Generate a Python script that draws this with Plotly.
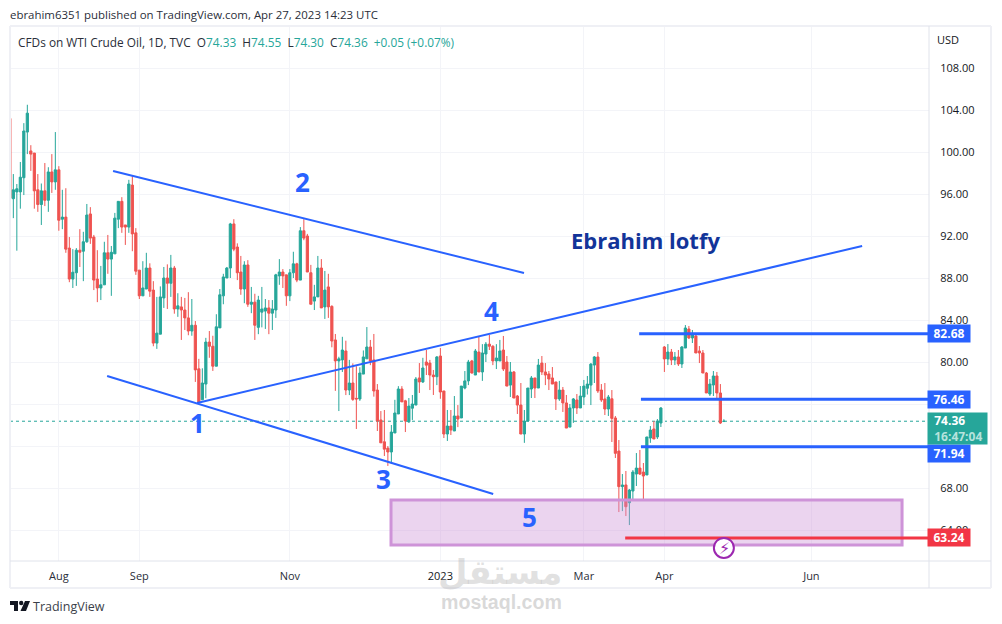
import plotly.graph_objects as go

opens = [103.2,95.55,96.2,96.2,97.55,101.9,100.1,99.9,96.4,95,96.3,95.4,98.1,97.15,98.3,93.6,93.8,90.85,87.9,88.5,
90.65,90.55,91.45,94.1,91.9,87.9,87.05,87.35,90.4,89.8,90.3,93.6,95.3,93.05,92.85,96.85,92.3,88.75,86.3,86.95,
88.95,86.85,81.8,82.65,86.1,88,87.5,88.95,85.05,85.25,84.95,84.2,82.95,83.5,79.35,76.4,77.9,81.9,81.5,79.6,
83.25,86.3,88,88.95,93.15,90.95,88.57,86.95,89.24,85.5,85.7,83.3,84.75,84.85,85.15,84.65,84.95,88.2,88.57,88.3,
86.3,88.5,89.35,87.8,92.5,92,88.5,85.8,86.2,88.95,85.25,87.15,85.3,82.1,80.1,80.2,81.05,77.33,78,76.54,
76.48,78.85,80.3,81.43,80.2,77.33,74.48,72.4,71.8,71.43,73.24,75.05,77.43,76.3,74.3,75.6,75.9,78.48,78.1,80,
79.9,78.76,78.6,80.57,77.24,73.14,73.9,73.43,74.86,74.67,77.52,78.2,80.1,78.76,80.95,79.05,80.76,81.7,81.5,80.1,
80.1,81.14,80,77.8,79.05,76.76,75.9,73.14,74.38,77.43,78.48,77.52,79.9,79.05,78.86,78.48,78.1,76.48,77.33,76.1,
73.8,75.62,76.38,75.62,76.67,77.5,77.8,79.71,80.48,77.33,76.48,75.52,76.5,74.67,71.52,68.13,68.29,66.6,67.71,69.33,
69.9,69.52,69.24,72.76,73.62,72.86,74.19,81.43,80.29,80.95,80.19,80.48,79.81,81.33,83.14,82.29,82.48,81.05,80.86,78.95,
76.95,77.81,78.67,77.05,74.33]
highs = [103.2,97.9,96.95,99.05,102.75,104.5,100.65,99.9,97.9,97,98.95,98.55,99.8,101.9,98.65,96.4,96.55,91.9,90.75,90.85,
92.65,92.4,95.05,94.75,92.1,90.65,89.15,91.45,92.1,91.05,94.2,95.3,95.7,93.05,97.35,97.7,92.75,88.75,89.6,90.4,
89.4,87.7,86.2,87.2,89.05,89.3,90.2,89.15,86.55,86.2,86.1,86.65,86,83.9,80.3,79.4,82.3,82.95,82.5,84.55,
86.95,88.4,89.05,93.25,93.6,91.3,90.1,89.6,89.7,87.15,86.5,86.3,87.15,86,85.9,85.9,88.4,89.8,88.85,88.3,
88.85,90.5,89.45,92.85,93.6,92.2,89.25,87.35,90.1,89.8,88.67,88.4,85.4,82.67,80.5,82.4,82.03,80.2,79.87,79.6,
79.5,81.1,83.33,82.1,82.67,77.9,75.33,75.43,72,74,76.4,77.7,77.7,76.4,76.57,76.86,78.57,79.9,80.4,81.14,
80.2,79.24,80.57,81.33,77.24,75.43,75.43,76.76,75.9,77.71,79.14,80.2,80.2,81.24,82.38,81.7,81.9,82.57,81.6,81.7,
82.1,82.48,80.57,80,79.14,76.86,78,75.43,77.52,78.67,78.48,80.29,80.57,79.9,79.14,79.52,78.1,78.2,77.62,76.86,
76,76.57,76.95,77.71,78.29,78.67,79.9,80.57,80.95,77.9,78,76.86,77.33,74.86,72.57,69.33,69.62,67.9,69.71,71.33,
71.62,70.38,72.86,73.9,74.38,74.57,75.71,81.52,81.71,81.24,80.95,81.14,81.52,83.52,83.43,83.05,82.67,81.52,81.14,79.05,
78.38,79.14,79.05,77.9,74.55]
lows = [95.6,93.7,90.6,94.6,95.9,99.8,98.2,94.6,94.3,93.05,94.85,94.3,96.1,96.4,92.5,92.65,90.4,87.6,87.05,87.25,
89.05,87.7,91.35,91.25,86.85,85.7,85.9,87.35,88.4,86.3,90.3,92.75,92.3,91.15,92.3,90.55,88.3,86,86.3,86.95,
86.2,81.5,81.25,82.65,85.15,85.05,86.2,84.6,84.3,82.1,83.05,82.55,82.5,78.1,76.2,76.4,76.55,80.4,79.15,79.6,
83.25,85.5,88,88,90.55,87.8,86.4,85.6,85.25,84.65,82.1,82.65,83.3,83.15,82.65,83.05,84.2,87.35,87.05,85.35,
85.8,88,87.6,87.8,91.6,88.57,85.5,84.95,86.2,85.15,84.1,84.2,81.4,77.25,75.33,79.05,76.85,76.85,76.3,73.62,
76.3,78.85,80.3,79.7,76.7,73.43,72.3,71.05,70.1,70.3,73.24,75.05,76.2,73.33,74.2,74.48,75.9,77.05,78,78.76,
77.33,76.86,77.8,76.5,72.76,72.48,73.05,73.43,73.8,74.67,77.4,77.8,78.9,78.76,79.05,78.2,80,81.14,79.7,79.33,
80.1,79.14,77.7,76.67,76.57,75.05,73.14,72.3,74.38,76.57,76.57,77.52,78.76,77.8,77.33,77.9,75.43,76.3,75.24,73.71,
73.8,74.2,75.05,75.62,75.9,76.9,75.9,78,77.05,76.2,74.95,74.86,72.38,70.86,65.71,65.8,65.33,64.47,66.95,68.19,
69.24,66.86,69.24,72.3,72.67,72.67,73.81,79.05,79.71,79.71,79.71,79.62,79.43,81.33,82.19,81.81,80.86,79.9,78.95,77.05,
76.76,76.76,76.57,74.1,74.3]
closes = [95.6,96.4,96.5,97.6,102,103.7,99.8,96.3,95,96.3,95.4,98.1,97.15,98.3,93.5,93.8,90.75,87.9,88.55,90.65,
90.45,91.45,94,91.8,87.8,87.05,87.35,90.4,89.8,90.45,93.7,95.3,92.85,92.85,96.95,92.2,88.65,86.3,87.05,88.95,
86.75,81.8,82.75,86.2,88,87.5,88.95,85.05,85.35,84.95,84.2,82.95,83.5,79.25,76.2,78,81.9,81.5,79.6,83.35,
86.4,88.1,88.95,93.15,90.75,88.5,86.95,89.24,85.5,85.7,83.5,85.9,85.05,85.15,84.65,85.05,88.3,88.57,88.2,86.3,
88.5,89.35,87.8,92.5,91.8,88.57,85.5,86.2,88.95,85.15,86.85,85.25,82,80.1,80.3,81.14,77.33,78,76.44,76.48,
78.95,80.48,81.43,80.1,77.24,74.38,72.3,71.7,71.43,73.33,75.14,77.43,76.2,74.38,75.8,76,78.38,78.1,79.43,79.7,
78.76,78.6,80.48,77.14,73.14,73.9,73.52,74.86,74.57,77.71,78.2,80,78.95,81.05,79.05,80.86,81.7,81.5,80.1,80.38,
81.05,79.33,77.71,79.05,76.57,75.9,73.14,74.38,77.52,78.48,77.52,79.71,79.05,78.76,78.38,77.9,76.48,77.33,76.1,73.71,
75.62,76.48,75.62,76.76,77.71,77.9,79.8,80.48,77.24,76.38,75.52,76.67,74.63,71.3,68.13,68.29,66.22,67.81,69.52,69.9,
69.33,69.14,72.86,73.52,72.67,74.38,75.62,80.29,80.95,80.19,80.48,79.81,81.43,83.24,82.29,82.67,80.86,80.86,78.95,77.05,
77.9,78.67,77.05,74.19,74.36]

tick_vals = [14, 37, 80, 123, 164, 187, 229]
tick_text = ["Aug", "Sep", "Nov", "<span style='color:#131722'>2023</span>", "Mar", "Apr", "Jun"]
price_ticks = [64, 68, 72, 76, 80, 84, 88, 92, 96, 100, 104, 108]
price_labels = ["64.00", "68.00", "", "", "80.00", "84.00", "88.00", "92.00", "96.00", "100.00", "104.00", "108.00"]
levels = [82.68, 76.46, 71.94]
level_starts = [179.8, 180.3, 180.3]
support = 63.24
last_price = 74.36

W, H = 1002, 624
L, R, T, B = 10, 929, 27, 561
BLUE = "#2962ff"
GREEN = "#26a69a"
RED = "#ef5350"
GRID = "#f3f4f8"
INK = "#131722"
TEXT_FONT = "Open Sans"

def px(v):
    return (v - L) / (R - L)

def py(v):
    return (B - v) / (B - T)

fig = go.Figure()
fig.add_trace(go.Candlestick(
    x=list(range(len(opens))), open=opens, high=highs, low=lows, close=closes,
    increasing=dict(line=dict(color=GREEN, width=1), fillcolor=GREEN),
    decreasing=dict(line=dict(color=RED, width=1), fillcolor=RED),
    whiskerwidth=0, hoverinfo="skip", showlegend=False,
))

shapes = []
shapes.append(dict(type="line", xref="paper", yref="y", x0=0, x1=1, y0=last_price, y1=last_price,
                   layer="below", line=dict(color=GREEN, width=1, dash="dot")))
for x0, y0, x1, y1 in [(29.5, 98.19, 146.9, 88.48), (53.5, 76.1, 243.5, 91.05), (27.8, 78.67, 138.1, 67.43)]:
    shapes.append(dict(type="line", xref="x", yref="y", x0=x0, y0=y0, x1=x1, y1=y1,
                       line=dict(color=BLUE, width=2)))
shapes.append(dict(type="rect", xref="x", yref="y", x0=108.9, x1=254.9, y0=62.57, y1=66.86,
                   fillcolor="rgba(206,147,216,0.4)", line=dict(color="#ce93d8", width=3)))
for lvl, st in zip(levels, level_starts):
    shapes.append(dict(type="line", xref="x", yref="y", x0=st, x1=263, y0=lvl, y1=lvl,
                       line=dict(color=BLUE, width=3)))
shapes.append(dict(type="line", xref="x", yref="y", x0=175.8, x1=263, y0=support, y1=support,
                   line=dict(color="#f23645", width=3)))
shapes.append(dict(type="circle", xref="x", yref="y", xsizemode="pixel", ysizemode="pixel",
                   xanchor=204, yanchor=62.29, x0=-10, x1=10, y0=-10, y1=10,
                   fillcolor="white", line=dict(color="#9c27b0", width=2)))
for x0, y0, x1, y1, col, wd in [
    (10, 26, 991, 26, "#eff0f5", 2), (10, 588, 991, 588, "#eff0f5", 2),
    (10, 26, 10, 588, "#eff0f5", 2), (991, 26, 991, 588, "#eff0f5", 2),
    (R, 26, R, 588, "#e0e3eb", 1), (10, B, 991, B, "#e0e3eb", 1)]:
    shapes.append(dict(type="line", xref="paper", yref="paper", x0=px(x0), x1=px(x1), y0=py(y0), y1=py(y1),
                       line=dict(color=col, width=wd)))
logo_t = [(10, 601), (18, 601), (18, 611), (14, 611), (14, 605), (10, 605)]
logo_s = [(25, 601), (30, 601), (26, 611), (20.5, 611)]
for poly in (logo_t, logo_s):
    path = "M " + " L ".join(f"{px(a):.5f} {py(b):.5f}" for a, b in poly) + " Z"
    shapes.append(dict(type="path", xref="paper", yref="paper", path=path, fillcolor=INK, line=dict(width=0)))
shapes.append(dict(type="circle", xref="paper", yref="paper", x0=px(19), x1=px(23.4), y0=py(605.2), y1=py(600.8),
                   fillcolor=INK, line=dict(width=0)))

ann = []
def note(text, x, y, size, color, bold=False, xanchor="center", font=TEXT_FONT):
    ann.append(dict(text=f"<b>{text}</b>" if bold else text, xref="paper", yref="paper", x=px(x), y=py(y),
                    xanchor=xanchor, yanchor="middle", showarrow=False,
                    font=dict(size=size, color=color, family=font)))

note("ebrahim6351 published on TradingView.com, Apr 27, 2023 14:23 UTC", 8, 15, 11.45, "#2a2e39", xanchor="left")
g = lambda s: f"<span style='color:{GREEN}'>{s}</span>"
sp = "&nbsp;&nbsp;"
note("CFDs on WTI Crude Oil, 1D, TVC" + sp + "O" + g("74.33") + sp + "H" + g("74.55") + sp + "L" + g("74.30") + sp + "C" + g("74.36")
     + sp + g("+0.05 (+0.07%)"), 16, 42, 11.85, "#2a2e39", xanchor="left")
note("USD", 948, 40, 11, INK)
for label, x, y in [("2", 302, 182), ("1", 197, 423), ("3", 383, 479), ("4", 491, 311), ("5", 529, 517)]:
    note(label, x, y, 26, BLUE, bold=True)
note("Ebrahim lotfy", 645, 240, 22, "#123499", bold=True)
note("⚡", 724, 548, 16, "#9c27b0", font="DejaVu Sans")
note("TradingView", 31, 606, 12.5, "#3b3f4a", xanchor="left")
note("مستقل", 500, 572, 34, "rgba(170,170,170,0.35)", bold=True, font="DejaVu Sans")
note("mostaql.com", 501.5, 602, 19.6, "rgba(185,185,185,0.55)", bold=True, font="Liberation Sans")

tag_y = {levels[0]: levels[0], levels[1]: levels[1], levels[2]: 71.3, support: support}
for val, col in [(levels[0], BLUE), (levels[1], BLUE), (levels[2], BLUE), (support, "#f23645")]:
    ann.append(dict(text=f"<b>{val:.2f}</b>", xref="paper", yref="y", x=px(927), y=tag_y[val], xanchor="left",
                    yanchor="middle", showarrow=False, bgcolor=col, width=42, height=17, borderpad=0,
                    font=dict(size=12, color="white", family=TEXT_FONT)))
ann.append(dict(text=f"&nbsp;&nbsp;<b>{last_price:.2f}</b><br>&nbsp;&nbsp;<span style='color:#b6e3dd'><b>16:47:04</b></span>",
                xref="paper", yref="paper", x=px(927), y=py(428.5), xanchor="left", yanchor="middle",
                showarrow=False, bgcolor=GREEN, width=59, height=31, borderpad=0, align="left",
                font=dict(size=12, color="white", family=TEXT_FONT)))

fig.update_layout(
    width=W, height=H, margin=dict(l=L, r=W - R, t=T, b=H - B, pad=0),
    paper_bgcolor="white", plot_bgcolor="white", showlegend=False, boxgap=0.1,
    shapes=shapes, annotations=ann,
    xaxis=dict(range=[0.05, 262.6], rangeslider=dict(visible=False), tickmode="array", tickvals=tick_vals,
               ticktext=tick_text, showgrid=True, gridcolor=GRID, gridwidth=1, zeroline=False, showline=False,
               ticks="outside", ticklen=5, tickcolor="rgba(0,0,0,0)", tickfont=dict(size=11, color="#2a2e39", family=TEXT_FONT)),
    yaxis=dict(range=[61.048, 111.905], side="right", tickmode="array", tickvals=price_ticks,
               ticktext=price_labels, showgrid=True, gridcolor=GRID, gridwidth=1,
               zeroline=False, showline=False, ticks="outside", ticklen=8, tickcolor="rgba(0,0,0,0)",
               tickfont=dict(size=11, color=INK, family=TEXT_FONT)),
)
fig.write_html("out.html", config=dict(displayModeBar=False), post_script="document.body.style.margin='0';")
